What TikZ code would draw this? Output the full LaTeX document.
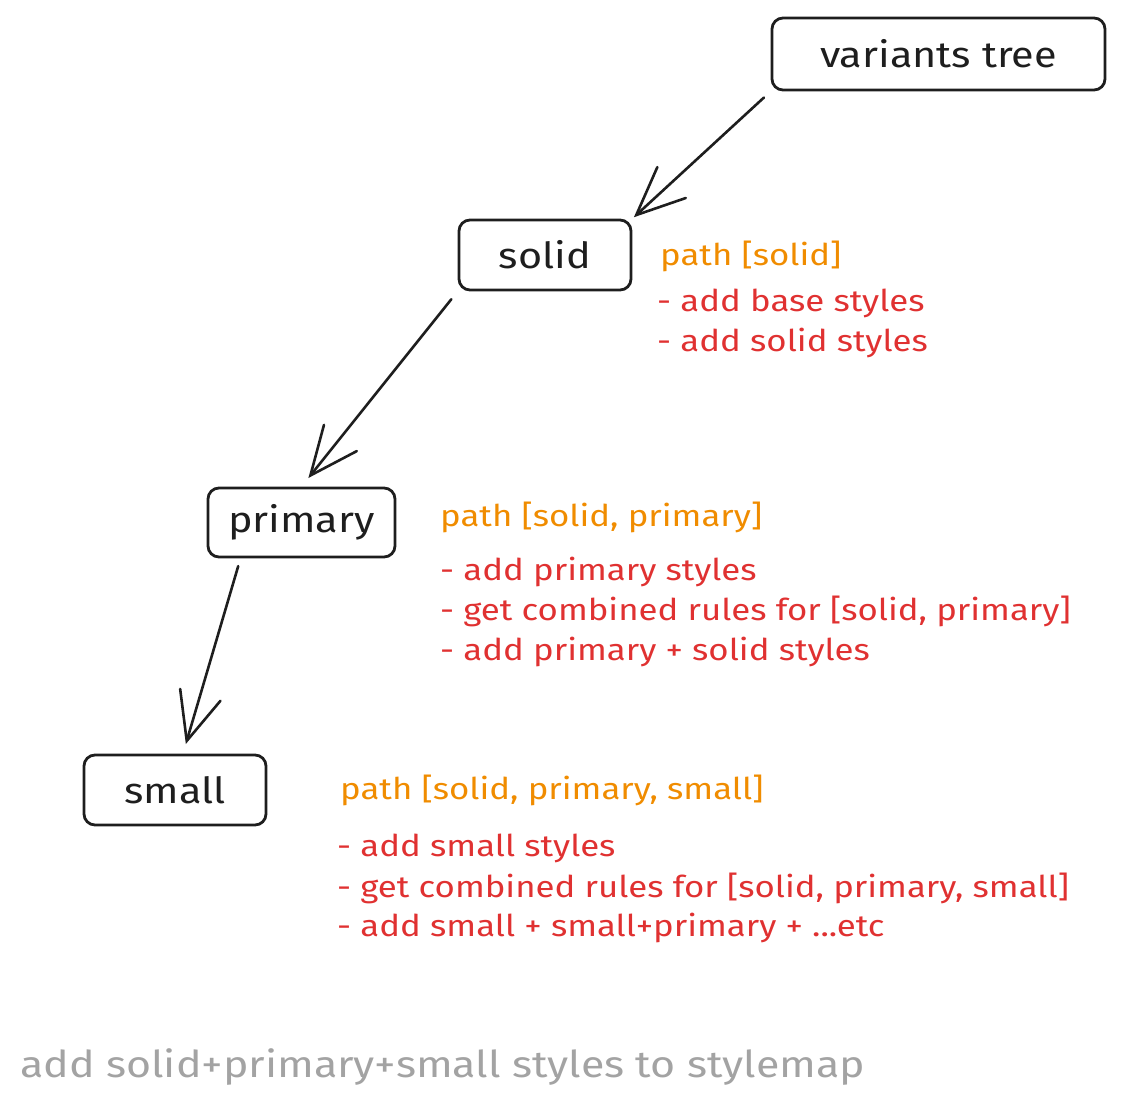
\documentclass[tikz,border=0pt]{standalone}
\usepackage{fontspec}
\setmainfont[FakeStretch=1.16]{Fira Sans}
\newfontfamily\boxfont[FakeStretch=1.15]{Fira Sans}
\usetikzlibrary{arrows.meta,calc}
\definecolor{exorange}{HTML}{F08C00}
\definecolor{exred}{HTML}{E03131}
\definecolor{exgray}{HTML}{A3A3A3}
\definecolor{exink}{HTML}{1E1E1E}
\tikzset{
  box/.style={draw=exink, line width=2.8pt, rounded corners=11pt, anchor=center, inner sep=0pt, font=\boxfont\fontsize{36}{42}\selectfont, text=exink},
  conn/.style={draw=exink, line width=2.6pt, line cap=round, -{Straight Barb[length=48pt,width=42pt,line width=2.6pt,line cap=round]}},
  pathlbl/.style={anchor=west, inner sep=0pt, text=exorange, font=\fontsize{30}{36}\selectfont},
  steplbl/.style={anchor=west, inner sep=0pt, text=exred, font=\fontsize{30}{36}\selectfont},
  footlbl/.style={anchor=west, inner sep=0pt, text=exgray, font=\fontsize{37}{44}\selectfont}
}
\begin{document}
\begin{tikzpicture}[x=1pt,y=-1pt]
\useasboundingbox (0,0) rectangle (1124,1111);
\node[box, minimum width=333pt, minimum height=72pt] (vt) at (938.5,54) {variants tree};
\node[box, minimum width=172pt, minimum height=70pt] (solid) at (545,255) {solid};
\node[box, minimum width=187pt, minimum height=69pt] (primary) at (301.5,522.5) {primary};
\node[box, minimum width=182pt, minimum height=70pt] (small) at (175,790) {small};

\draw[conn, shorten <=9pt, shorten >=2pt] (vt.south west) -- (solid.north east);
\draw[conn, shorten <=10pt, shorten >=11pt] (solid.south west) -- (primary.north);
\draw[conn, shorten <=8pt, shorten >=10pt] ([xshift=-61pt]primary.south) -- ([xshift=8pt]small.north);

\node[pathlbl] (p1) at (660,256) {path [solid]};
\node[steplbl] (s11) at (657,303) {- add base styles};
\node[steplbl] (s12) at (657,343) {- add solid styles};

\node[pathlbl] (p2) at (440,517) {path [solid, primary]};
\node[steplbl] (s21) at (440,572) {- add primary styles};
\node[steplbl] (s22) at (440,611) {- get combined rules for [solid, primary]};
\node[steplbl] (s23) at (440,652) {- add primary + solid styles};

\node[pathlbl] (p3) at (340,790) {path [solid, primary, small]};
\node[steplbl] (s31) at (337,848) {- add small styles};
\node[steplbl] (s32) at (337,888) {- get combined rules for [solid, primary, small]};
\node[steplbl] (s33) at (337,928) {- add small + small+primary + ...etc};

\node[footlbl] (foot) at (20,1067) {add solid+primary+small styles to stylemap};
\end{tikzpicture}
\end{document}
